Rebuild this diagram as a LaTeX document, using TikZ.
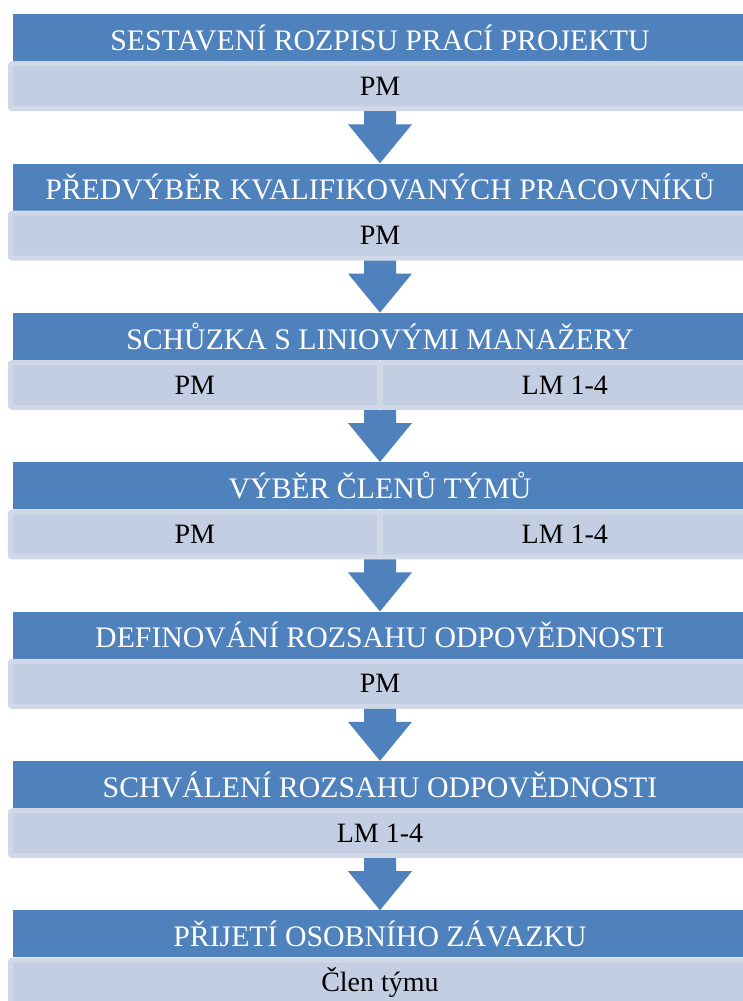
\documentclass[tikz,border=0pt]{standalone}
\usepackage{fontspec}
\setmainfont{Liberation Serif}
\usepackage{tikz}
\usetikzlibrary{positioning, calc}
\definecolor{hdrblue}{RGB}{79,129,189}
\definecolor{subfill}{RGB}{195,206,226}
\definecolor{subedge}{RGB}{208,216,232}
\tikzset{
  header/.style={rectangle, fill=hdrblue, text=white,
    minimum width=734pt, minimum height=47pt, inner sep=0pt,
    font=\fontsize{29.8}{32}\selectfont},
  subbar/.style={rectangle, fill=subfill, draw=subedge, line width=5pt,
    rounded corners=2pt, minimum width=739pt, minimum height=45pt,
    inner sep=0pt, text=black, font=\fontsize{28}{31}\selectfont},
  halfbar/.style={subbar, minimum width=369pt}
}
\newcommand{\blockarrow}[2]{%
  \fill[hdrblue] let \p1=(#1), \p2=(#2) in
    (\x2-16pt,\y1) -- (\x2+16pt,\y1) -- (\x2+16pt,\y2+39pt)
    -- (\x2+32pt,\y2+39pt) -- (\x2,\y2) -- (\x2-32pt,\y2+39pt)
    -- (\x2-16pt,\y2+39pt) -- cycle;}

\begin{document}
\begin{tikzpicture}[x=1pt, y=1pt]
  \clip (0,0) rectangle (743,-1001);

  \node[header] (h1) at (380,-37.5) {SESTAVENÍ ROZPISU PRACÍ PROJEKTU};
  \node[subbar, below=0pt of h1] (s1) {PM};

  \node[header] (h2) at (380,-187) {PŘEDVÝBĚR KVALIFIKOVANÝCH PRACOVNÍKŮ};
  \node[subbar, below=0pt of h2] (s2) {PM};

  \node[header] (h3) at (380,-336.3) {SCHŮZKA S LINIOVÝMI MANAŽERY};
  \node[halfbar, below right=0pt and -5pt of h3.south west] (s3a) {PM};
  \node[halfbar, right=-4pt of s3a] (s3b) {LM 1-4};

  \node[header] (h4) at (380,-485.7) {VÝBĚR ČLENŮ TÝMŮ};
  \node[halfbar, below right=0pt and -5pt of h4.south west] (s4a) {PM};
  \node[halfbar, right=-4pt of s4a] (s4b) {LM 1-4};

  \node[header] (h5) at (380,-635.1) {DEFINOVÁNÍ ROZSAHU ODPOVĚDNOSTI};
  \node[subbar, below=0pt of h5] (s5) {PM};

  \node[header] (h6) at (380,-784.5) {SCHVÁLENÍ ROZSAHU ODPOVĚDNOSTI};
  \node[subbar, below=0pt of h6] (s6) {LM 1-4};

  \node[header] (h7) at (380,-933.9) {PŘIJETÍ OSOBNÍHO ZÁVAZKU};
  \node[subbar, below=0pt of h7] (s7) {Člen týmu};

  \blockarrow{s1.south}{h2.north}
  \blockarrow{s2.south}{h3.north}
  \blockarrow{s3a.south}{h4.north}
  \blockarrow{s4a.south}{h5.north}
  \blockarrow{s5.south}{h6.north}
  \blockarrow{s6.south}{h7.north}
\end{tikzpicture}
\end{document}
